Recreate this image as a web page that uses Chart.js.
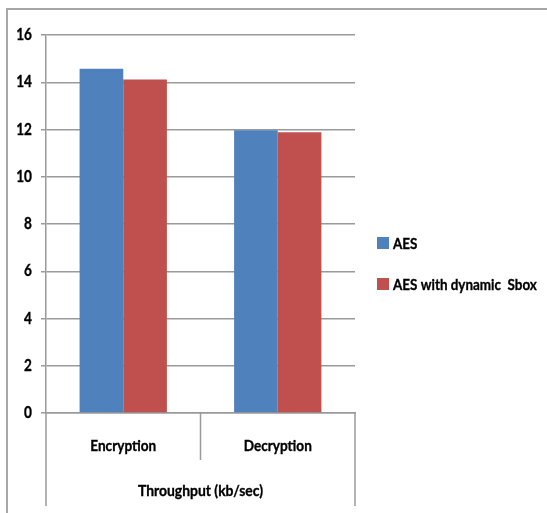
<!DOCTYPE html>
<html>
<head>
<meta charset="utf-8">
<script src="https://cdn.jsdelivr.net/npm/chart.js@4"></script>
<style>
  html, body { margin: 0; padding: 0; background: #fff; }
  #wrap { width: 547px; height: 513px; position: relative; }
</style>
</head>
<body>
<div id="wrap"><canvas id="c" width="547" height="513"></canvas></div>
<script>
// Throughput of plain AES vs. AES with a dynamic S-box
const categories = ['Encryption', 'Decryption'];
const seriesNames = ['AES', 'AES with dynamic  Sbox'];
const aesValues = [14.57, 11.97];
const sboxValues = [14.12, 11.88];
const yTicks = [0, 2, 4, 6, 8, 10, 12, 14, 16];
const axisTitle = 'Throughput (kb/sec)';

const FONT = "Lato, 'Liberation Sans', sans-serif";
const GRID = '#9a9a9a';

// Text in a narrow bold face: a horizontally condensed Lato
function narrowText(ctx, text, x, y, align, size, squeeze) {
  ctx.save();
  ctx.font = 'bold ' + size + 'px ' + FONT;
  ctx.fillStyle = '#000';
  ctx.strokeStyle = '#000';
  ctx.lineWidth = 0.35;
  ctx.textAlign = align;
  ctx.textBaseline = 'alphabetic';
  ctx.translate(x, y);
  ctx.scale(squeeze, 1);
  ctx.fillText(text, 0, 0);
  ctx.strokeText(text, 0, 0);
  ctx.restore();
}

// Frame, category separators, axis labels and the side legend
const decorations = {
  id: 'decorations',
  beforeDraw(chart) {
    const ctx = chart.ctx;
    ctx.save();
    ctx.strokeStyle = '#a6a6a6';
    ctx.lineWidth = 2;
    ctx.beginPath();
    ctx.moveTo(7, 513);
    ctx.lineTo(7, 9);
    ctx.lineTo(547, 9);
    ctx.stroke();
    ctx.restore();
  },
  afterDraw(chart) {
    const ctx = chart.ctx;
    const xs = chart.scales.x;
    const ys = chart.scales.y;
    const area = chart.chartArea;
    ctx.save();
    ctx.strokeStyle = GRID;
    ctx.lineWidth = 1.5;
    const mid = (xs.getPixelForValue(0) + xs.getPixelForValue(1)) / 2;
    ctx.beginPath();
    ctx.moveTo(xs.left, area.bottom);
    ctx.lineTo(xs.left, 506);
    ctx.moveTo(xs.right, area.bottom);
    ctx.lineTo(xs.right, 506);
    ctx.moveTo(mid, area.bottom);
    ctx.lineTo(mid, 460);
    ctx.stroke();
    ctx.restore();

    // value axis labels
    ys.ticks.forEach(t => {
      narrowText(ctx, String(t.value), 32, ys.getPixelForValue(t.value) + 5, 'right', 17, 0.8);
    });
    // category labels and the axis title
    chart.data.labels.forEach((lab, i) => {
      narrowText(ctx, lab, xs.getPixelForValue(i), 451, 'center', 16, 0.85);
    });
    narrowText(ctx, axisTitle, (xs.left + xs.right) / 2, 496, 'center', 16, 0.87);

    // legend
    const rows = [249, 290];
    chart.data.datasets.forEach((ds, i) => {
      const base = rows[i];
      ctx.fillStyle = ds.backgroundColor;
      ctx.fillRect(377, base - 12, 12, 12);
      narrowText(ctx, ds.label, 393, base, 'left', 16, 0.84);
    });
  }
};

new Chart(document.getElementById('c'), {
  type: 'bar',
  data: {
    labels: categories,
    datasets: [
      { label: seriesNames[0], data: aesValues, backgroundColor: '#4F81BD' },
      { label: seriesNames[1], data: sboxValues, backgroundColor: '#C0504D' }
    ]
  },
  options: {
    responsive: false,
    animation: false,
    devicePixelRatio: 1,
    layout: { padding: { left: 0, top: 35, right: 192, bottom: 0 } },
    datasets: { bar: { categoryPercentage: 0.565, barPercentage: 1.0 } },
    plugins: {
      legend: { display: false },
      tooltip: { enabled: false }
    },
    scales: {
      x: {
        grid: { display: false },
        border: { display: true, color: GRID, width: 1.5 },
        ticks: { display: false },
        afterFit(scale) { scale.height = 100; }
      },
      y: {
        min: 0,
        max: 16,
        afterBuildTicks(scale) { scale.ticks = yTicks.map(v => ({ value: v })); },
        grid: { color: GRID, lineWidth: 1.5, tickLength: 5, drawTicks: true },
        border: { display: true, color: GRID, width: 1.5 },
        ticks: { display: false },
        afterFit(scale) { scale.width = 46; }
      }
    }
  },
  plugins: [decorations]
});
</script>
</body>
</html>
